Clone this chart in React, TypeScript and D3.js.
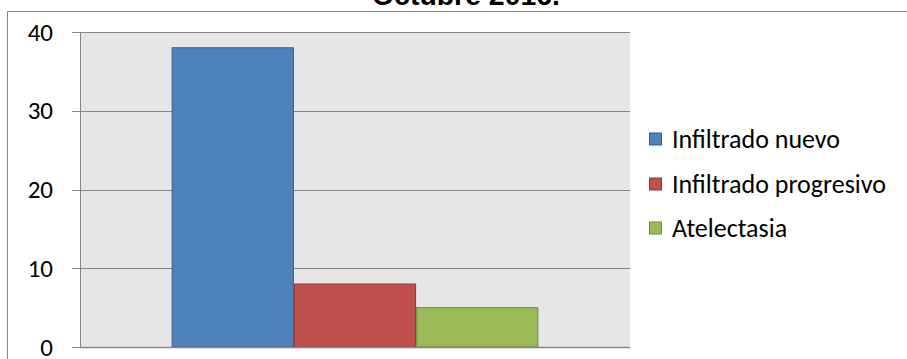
import React from "react";
import * as d3 from "d3";

const title = "Octubre 2016.";
const categories = ["Hallazgos"];
const seriesNames = ["Infiltrado nuevo", "Infiltrado progresivo", "Atelectasia"];
const seriesValues = [38, 8, 5];
const seriesColors = ["#4f81bd", "#c0504d", "#9bbb59"];
const seriesStrokes = ["#385d8a", "#8c3836", "#71893f"];
const yTicks = [0, 10, 20, 30, 40];

const W = 907;
const H = 359;
const plot = { left: 80, right: 630, top: 32, bottom: 347 };

export default function App() {
  const y = d3.scaleLinear().domain([0, 40]).range([plot.bottom, plot.top]);
  const x0 = d3
    .scaleBand<string>()
    .domain(categories)
    .range([plot.left, plot.right])
    .paddingInner(0)
    .paddingOuter(0.25);
  const x1 = d3
    .scaleBand<string>()
    .domain(seriesNames)
    .range([0, x0.bandwidth()])
    .padding(0);

  const font = "Carlito, Calibri, Lato, 'Liberation Sans', sans-serif";
  const legendY = [139, 184, 228];

  return (
    <svg
      width={W}
      height={H}
      style={{ position: "absolute", left: 0, top: 0, background: "#fff" }}
    >
      <rect x={7.5} y={11.5} width={1000} height={1000} fill="#fff" stroke="#868686" strokeWidth={1} />
      <text
        x={466}
        y={5}
        textAnchor="middle"
        fontFamily="'Liberation Sans', Arial, sans-serif"
        fontWeight="bold"
        fontSize={27}
        textLength={188}
        lengthAdjust="spacingAndGlyphs"
        fill="#000"
      >
        {title}
      </text>
      <rect
        x={plot.left}
        y={plot.top}
        width={plot.right - plot.left}
        height={plot.bottom - plot.top}
        fill="#e6e6e6"
      />
      {yTicks.map((t) => (
        <g key={t}>
          <line
            x1={plot.left - 8}
            x2={plot.right}
            y1={Math.round(y(t)) + 0.5}
            y2={Math.round(y(t)) + 0.5}
            stroke="#868686"
            strokeWidth={1}
          />
          <text
            x={53}
            y={y(t)}
            textAnchor="end"
            dominantBaseline="central"
            fontFamily={font}
            fontSize={25}
            fill="#000"
          >
            {t}
          </text>
        </g>
      ))}
      <line x1={plot.left + 0.5} x2={plot.left + 0.5} y1={plot.top} y2={plot.bottom} stroke="#868686" />
      {categories.map((c) => (
        <g key={c} transform={`translate(${x0(c)},0)`}>
          {seriesNames.map((s, i) => (
            <rect
              key={s}
              x={x1(s)! + 0.5}
              y={y(seriesValues[i])}
              width={x1.bandwidth() - 1}
              height={plot.bottom - y(seriesValues[i])}
              fill={seriesColors[i]}
              stroke={seriesStrokes[i]}
              strokeWidth={1}
            />
          ))}
        </g>
      ))}
      <line x1={plot.left} x2={plot.right} y1={plot.bottom + 0.5} y2={plot.bottom + 0.5} stroke="#868686" strokeWidth={1.5} />
      {seriesNames.map((s, i) => (
        <g key={s}>
          <rect
            x={649.5}
            y={legendY[i] - 6}
            width={12}
            height={12}
            fill={seriesColors[i]}
            stroke={seriesStrokes[i]}
          />
          <text
            x={672}
            y={legendY[i]}
            dominantBaseline="central"
            fontFamily={font}
            fontSize={26}
            fill="#000"
          >
            {s}
          </text>
        </g>
      ))}
    </svg>
  );
}
